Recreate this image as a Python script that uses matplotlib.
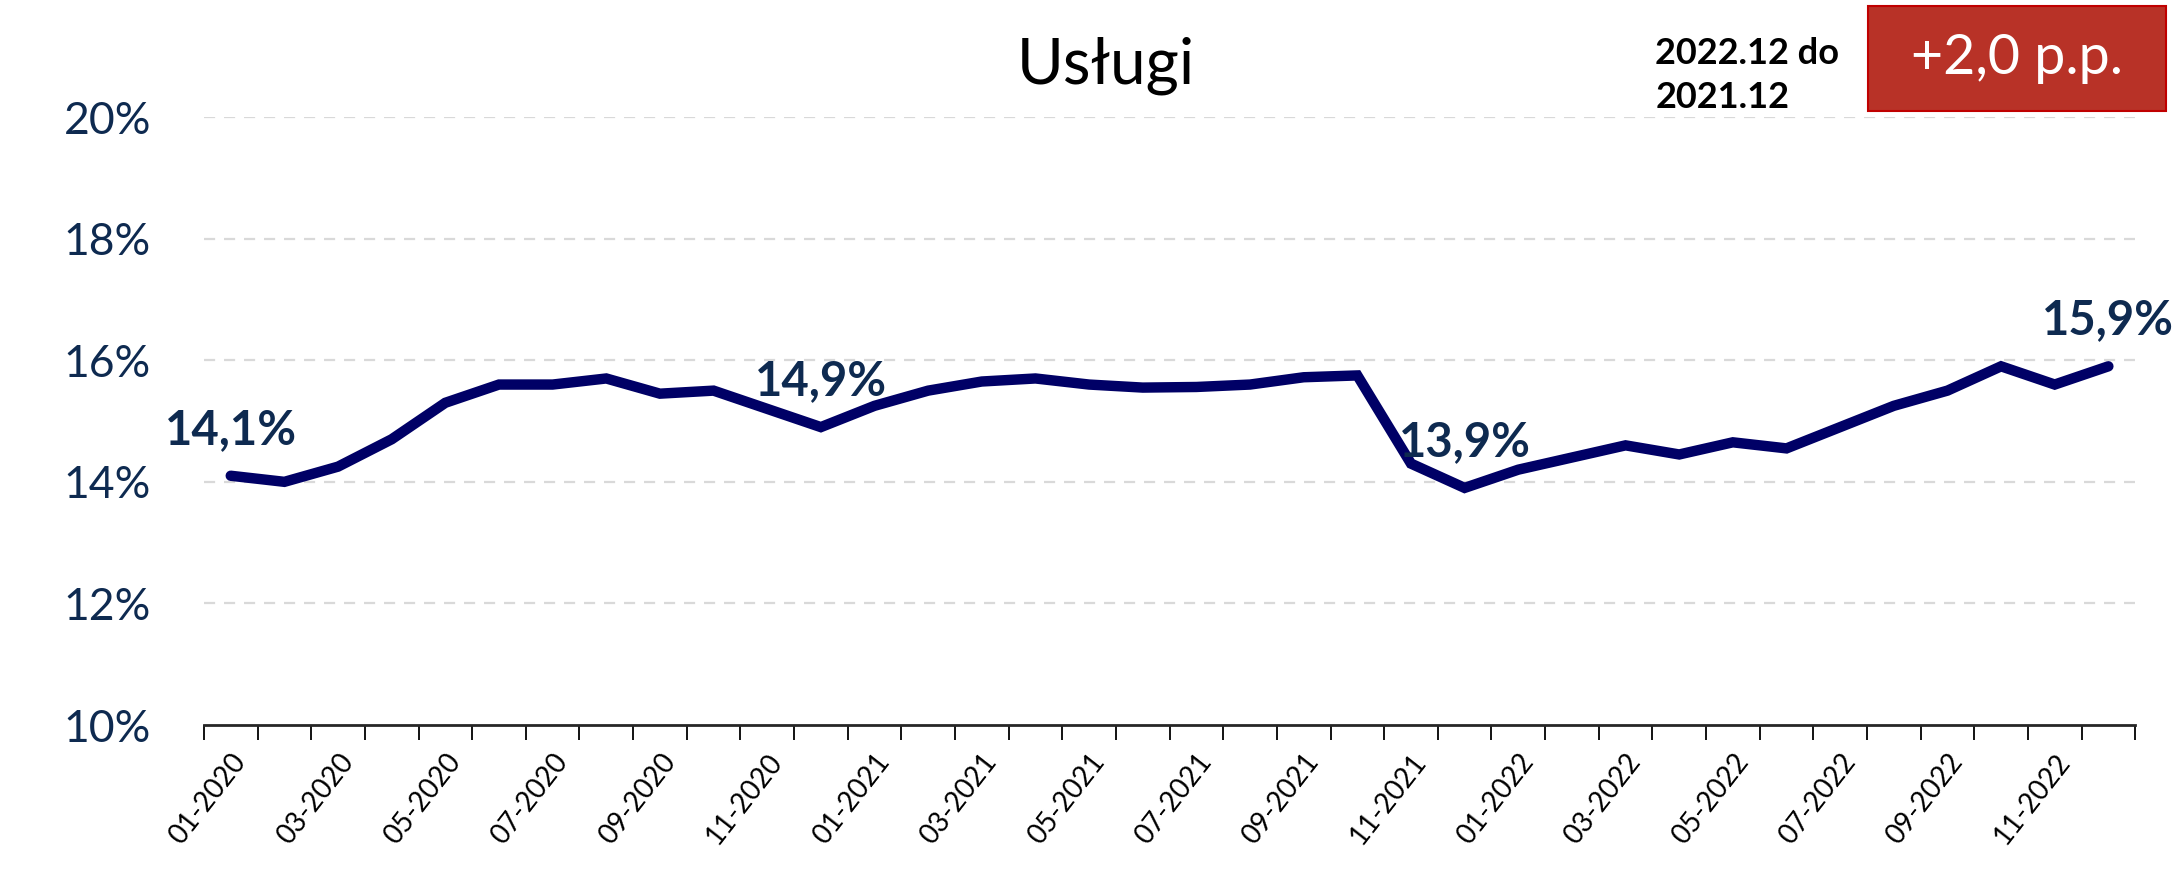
import matplotlib.pyplot as plt
from matplotlib.patches import Rectangle

plt.rcParams['font.family'] = ['Lato', 'DejaVu Sans']

# Share of services, monthly 01-2020 .. 12-2022 (%)
months = [f"{m:02d}-{y}" for y in (2020, 2021, 2022) for m in range(1, 13)]
values = [14.1, 14.0, 14.25, 14.7, 15.3, 15.6, 15.6, 15.7, 15.45, 15.5, 15.2, 14.9,
          15.25, 15.5, 15.65, 15.7, 15.6, 15.55, 15.56, 15.6, 15.72, 15.75, 14.3, 13.9,
          14.2, 14.4, 14.6, 14.45, 14.65, 14.55, 14.9, 15.25, 15.5, 15.9, 15.6, 15.9]
labelled = [0, 11, 23, 35]
y_ticks = [10, 12, 14, 16, 18, 20]

title = "Usługi"
compare_text = "2022.12 do\n2021.12"
change_text = "+2,0 p.p."

line_color = '#000066'
text_color = '#0E2A50'

fig = plt.figure(figsize=(21.81, 8.96), dpi=100)
ax = fig.add_axes([0.0935, 0.1908, 0.8855, 0.6786])

x = list(range(len(values)))
ax.plot(x, values, color=line_color, linewidth=7.5, solid_capstyle='round',
        solid_joinstyle='miter', zorder=3)

for i in labelled:
    ax.annotate(f"{values[i]:.1f}%".replace('.', ','), (x[i], values[i]),
                xytext=(0, 23), textcoords='offset points', ha='center',
                va='baseline', fontsize=34, fontweight='bold', color=text_color)

ax.set_xlim(-0.5, len(values) - 0.5)
ax.set_ylim(10, 20)

# gridlines
for v in y_ticks[1:]:
    ax.axhline(v, color='#D9D9D9', linewidth=1.6, linestyle=(0, (5, 4)), zorder=1)

ax.set_yticks(y_ticks)
ax.set_yticklabels([f"{v}%" for v in y_ticks], fontsize=32, color=text_color)
ax.tick_params(axis='y', length=0, pad=38)

ax.set_xticks(x[::2])
ax.set_xticklabels(months[::2], rotation=52, ha='right', va='top',
                   rotation_mode='anchor', fontsize=20, color='black')
ax.set_xticks([i - 0.5 for i in range(len(values) + 1)], minor=True)
ax.tick_params(axis='x', which='major', length=0, pad=17)
ax.tick_params(axis='x', which='minor', length=11, width=1.3, color='black')

for side in ('left', 'right', 'top'):
    ax.spines[side].set_visible(False)
ax.spines['bottom'].set_linewidth(2)
ax.spines['bottom'].set_color('#262626')

fig.text(0.507, 0.907, title, ha='center', va='baseline', fontsize=46, color='black')
fig.text(0.759, 0.88, compare_text, ha='left', va='baseline', fontsize=26,
         fontweight='bold', color='black', linespacing=1.4)

fig.patches.append(Rectangle((0.8565, 0.8761), 0.1366, 0.1172, transform=fig.transFigure,
                             facecolor='#B83227', edgecolor='#C00000', linewidth=1.5))
fig.text(0.8565 + 0.1366 / 2, 0.8761 + 0.1172 / 2, change_text, ha='center', va='center',
         fontsize=40, color='white')

fig.savefig('out.png', dpi=100)
